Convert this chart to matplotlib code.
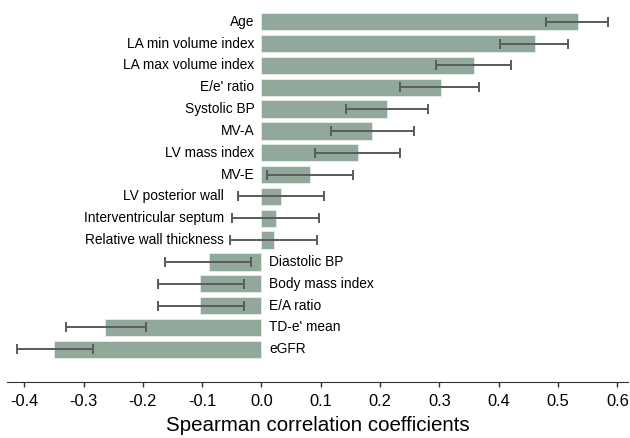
import matplotlib.pyplot as plt
import numpy as np

plt.rcParams['font.family'] = ['Liberation Sans', 'DejaVu Sans']

# Data (top to bottom)
labels = ['Age', 'LA min volume index', 'LA max volume index', "E/e' ratio",
          'Systolic BP', 'MV-A', 'LV mass index', 'MV-E', 'LV posterior wall',
          'Interventricular septum', 'Relative wall thickness', 'Diastolic BP',
          'Body mass index', 'E/A ratio', "TD-e' mean", 'eGFR']
rho = [0.534, 0.461, 0.359, 0.302, 0.212, 0.187, 0.163, 0.082, 0.033,
       0.025, 0.021, -0.089, -0.103, -0.103, -0.263, -0.349]
ci_low = [0.479, 0.402, 0.295, 0.233, 0.142, 0.117, 0.091, 0.009, -0.039,
          -0.049, -0.053, -0.162, -0.175, -0.175, -0.330, -0.412]
ci_high = [0.584, 0.516, 0.421, 0.366, 0.281, 0.257, 0.233, 0.154, 0.105,
           0.097, 0.093, -0.017, -0.030, -0.030, -0.194, -0.284]
ticks = [-0.4, -0.3, -0.2, -0.1, 0.0, 0.1, 0.2, 0.3, 0.4, 0.5, 0.6]

rho = np.array(rho)
lo = np.array(ci_low)
hi = np.array(ci_high)
y = np.arange(len(labels))

fig = plt.figure(figsize=(6.3, 4.38), dpi=100)
ax = fig.add_axes([7 / 630, 56 / 438, 621 / 630, 374 / 438])

ax.barh(y, rho, height=0.8, color='#90a99b', edgecolor='#e8eee9', linewidth=0.6)
ax.errorbar(rho, y, xerr=[rho - lo, hi - rho], fmt='none', ecolor='#5a5a5a',
            elinewidth=1.4, capsize=3.5, capthick=1.4)

# category labels next to the zero line
fs = 9.9
for yi, name, v, l in zip(y, labels, rho, lo):
    if v >= 0:
        if l >= 0:
            ax.annotate(name, (0, yi), xytext=(-5, 0), textcoords='offset points',
                        ha='right', va='center', fontsize=fs)
        else:
            ax.annotate(name, (-0.063, yi), xytext=(0, 0), textcoords='offset points',
                        ha='right', va='center', fontsize=fs)
    else:
        ax.annotate(name, (0, yi), xytext=(5.5, 0), textcoords='offset points',
                    ha='left', va='center', fontsize=fs)

ax.set_xlim(-0.429, 0.618)
ax.set_ylim(16.5, -0.63)
ax.set_xticks(ticks)
ax.set_xticklabels(['%.1f' % t for t in ticks], fontsize=11.8)
ax.set_yticks([])
for s in ['top', 'right', 'left']:
    ax.spines[s].set_visible(False)
ax.spines['bottom'].set_color('#333333')
ax.tick_params(axis='x', length=3.5, width=1, color='#333333', pad=5)
ax.set_xlabel('Spearman correlation coefficients', fontsize=14.8, labelpad=5)

fig.savefig('out.png', dpi=100)
